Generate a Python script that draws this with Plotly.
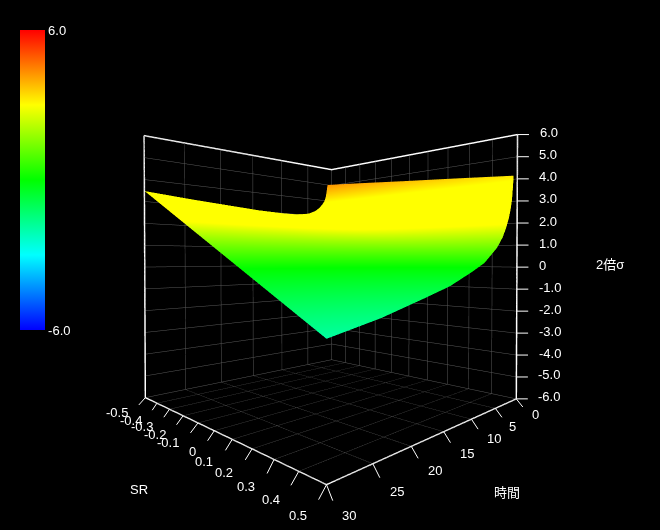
import plotly.graph_objects as go

times = [0.9, 1.1, 1.3, 1.6, 2, 2.7, 3.5, 4.75, 6, 7.5, 10, 14, 18, 24, 30]
sr = [-0.5, -0.25, 0, 0.25, 0.5]
sigma_m050 = [5.0, 4.55, 4.2, 3.95, 3.75, 3.5, 3.3, 3.12, 3.05, 3.0, 3.0, 3.05, 3.15, 3.3, 3.48]
sigma_m025 = [4.78, 4.29, 3.9, 3.62, 3.37, 3.06, 2.8, 2.56, 2.43, 2.3, 2.22, 2.13, 2.12, 2.1, 2.14]
sigma_p000 = [4.55, 4.03, 3.6, 3.28, 2.98, 2.61, 2.3, 1.99, 1.8, 1.6, 1.43, 1.2, 1.08, 0.9, 0.8]
sigma_p025 = [4.33, 3.77, 3.3, 2.94, 2.59, 2.17, 1.8, 1.42, 1.18, 0.9, 0.64, 0.28, 0.04, -0.3, -0.54]
sigma_p050 = [4.1, 3.5, 3.0, 2.6, 2.2, 1.72, 1.3, 0.85, 0.55, 0.2, -0.15, -0.65, -1.0, -1.5, -1.88]

sr_ticks = [-0.5, -0.4, -0.3, -0.2, -0.1, 0, 0.1, 0.2, 0.3, 0.4, 0.5]
sr_labels = ["-0.5", "-0.4", "-0.3", "-0.2", "-0.1", "0", "0.1", "0.2", "0.3", "0.4", "0.5"]
time_ticks = [0, 5, 10, 15, 20, 25, 30]
z_ticks = [-6, -5, -4, -3, -2, -1, 0, 1, 2, 3, 4, 5, 6]
z_labels = ["-6.0", "-5.0", "-4.0", "-3.0", "-2.0", "-1.0", "0", "1.0", "2.0", "3.0", "4.0", "5.0", "6.0"]

# screen-pixel offsets of the tick marks and their labels (perspective makes them vary per tick)
sr_tick_vec = [(-8, 9), (-6, 9), (-7, 10), (-8, 11), (-9, 12), (-8, 12), (-8, 13), (-8, 13), (-8, 16), (-9, 16), (-9, 17)]
sr_label_off = [(-28, 15), (-26, 17), (-27, 17), (-28, 19), (-30, 20), (-22, 21), (-28, 22), (-28, 24), (-28, 27), (-28, 28), (-29, 31)]
time_tick_vec = [(8, 10), (8, 11), (8, 12), (8, 13), (8, 14), (8, 16), (7, 18)]
time_label_off = [(19, 16), (17, 18), (23, 19), (23, 22), (24, 24), (24, 28), (22, 31)]

W, H = 660, 530
FONT = "Liberation Sans, Noto Sans CJK JP"
tick = dict(family=FONT, size=13, color="white")
axis = dict(showbackground=False, showline=True, linecolor="white", linewidth=3, mirror=True,
            showgrid=True, gridcolor="#5a5a5a", gridwidth=1, zeroline=False, showspikes=False,
            ticks="", showticklabels=False, title=dict(text=""))

bar_scale = [[0, "rgb(0,0,255)"], [0.25, "rgb(0,255,255)"], [0.5, "rgb(0,255,0)"], [0.75, "rgb(255,255,0)"], [1, "rgb(255,0,0)"]]
# the surface's colours reach yellow earlier than the bar suggests: stops given in z units
surface_stops = [(-6, "rgb(0,0,255)"), (-3, "rgb(0,255,255)"), (0, "rgb(0,255,0)"), (1.9, "rgb(255,255,0)"),
                 (3.9, "rgb(255,255,0)"), (5.1, "rgb(255,140,0)"), (6, "rgb(255,0,0)")]
surface_scale = [[(v + 6) / 12, c] for v, c in surface_stops]

surface = go.Surface(
    x=times, y=sr, z=[sigma_m050, sigma_m025, sigma_p000, sigma_p025, sigma_p050],
    cmin=-6, cmax=6, colorscale=surface_scale, showscale=False,
    lighting=dict(ambient=1, diffuse=0, specular=0, fresnel=0, roughness=1),
    hoverinfo="skip",
)
bar_holder = go.Scatter(
    x=[0], y=[0], mode="markers", hoverinfo="skip", showlegend=False,
    marker=dict(size=1, opacity=0, color=[0], cmin=-6, cmax=6, colorscale=bar_scale, showscale=True,
                colorbar=dict(x=20 / W, xanchor="left", xpad=0, y=1 - 30 / H, yanchor="top", ypad=0,
                              thickness=25, thicknessmode="pixels", len=300, lenmode="pixels",
                              outlinewidth=0, tickvals=[-6, 6], ticktext=["-6.0", "6.0"], ticks="",
                              tickfont=tick)),
)
fig = go.Figure([surface, bar_holder])

notes = []
for v, t in zip(z_ticks, z_labels):
    notes.append(dict(x=0, y=0.5, z=v, text=" ", showarrow=True, arrowhead=0, arrowwidth=1, arrowcolor="white",
                      ax=13, ay=0, standoff=0, startstandoff=0, font=dict(size=1)))
    notes.append(dict(x=0, y=0.5, z=v, text=t, showarrow=False, xanchor="left", xshift=20, yshift=2, font=tick))
for v, t, (tx, ty), (lx, ly) in zip(sr_ticks, sr_labels, sr_tick_vec, sr_label_off):
    notes.append(dict(x=30, y=v, z=-6, text=" ", showarrow=True, arrowhead=0, arrowwidth=1, arrowcolor="white",
                      ax=tx, ay=ty, standoff=0, startstandoff=0, font=dict(size=1)))
    notes.append(dict(x=30, y=v, z=-6, text=t, showarrow=False, xshift=lx, yshift=-ly, font=tick))
for v, (tx, ty), (lx, ly) in zip(time_ticks, time_tick_vec, time_label_off):
    notes.append(dict(x=v, y=0.5, z=-6, text=" ", showarrow=True, arrowhead=0, arrowwidth=1, arrowcolor="white",
                      ax=tx, ay=ty, standoff=0, startstandoff=0, font=dict(size=1)))
    notes.append(dict(x=v, y=0.5, z=-6, text=str(v), showarrow=False, xshift=lx, yshift=-ly, font=tick))

fig.update_layout(
    width=W, height=H, margin=dict(l=0, r=0, t=0, b=0),
    paper_bgcolor="black", plot_bgcolor="rgba(0,0,0,0)",
    xaxis=dict(visible=False), yaxis=dict(visible=False),
    scene=dict(
        domain=dict(x=[0, 1], y=[0, 1]),
        bgcolor="black", aspectmode="cube",
        camera=dict(eye=dict(x=1.285, y=1.315, z=0.03), center=dict(x=0, y=0, z=0.008), up=dict(x=0, y=0, z=1),
                    projection=dict(type="perspective")),
        xaxis=dict(axis, range=[0, 30], tickvals=time_ticks),
        yaxis=dict(axis, range=[-0.5, 0.5], tickvals=sr_ticks),
        zaxis=dict(axis, range=[-6, 6], tickvals=z_ticks),
        annotations=notes,
    ),
    annotations=[
        dict(text=t, x=px / W, y=1 - py / H, xref="paper", yref="paper", showarrow=False, font=tick,
             xanchor="center", yanchor="middle")
        for t, px, py in [("SR", 139, 489), ("時間", 507, 492), ("2倍σ", 609.5, 264)]
    ],
)
fig.write_html("out.html", config={"displayModeBar": False}, post_script=(
    "document.body.style.margin='0';document.body.style.background='black';"
    "document.documentElement.style.overflow='hidden';"
    "var gd=document.getElementById('{plot_id}');"
    "var sc=gd._fullLayout.scene._scene;"
    "sc.glplot.fovy=1.002;sc.glplot.redraw();"
))
